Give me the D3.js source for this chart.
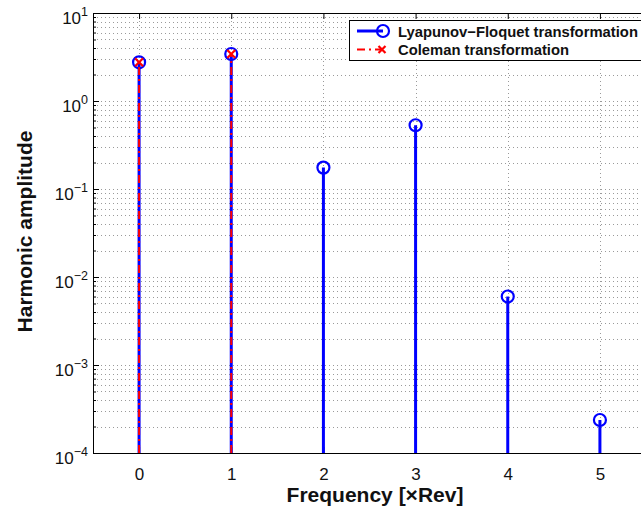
<!DOCTYPE html>
<html><head><meta charset="utf-8">
<script src="https://cdn.jsdelivr.net/npm/d3@7"></script>
<style>body{margin:0;background:#fff}svg{display:block}</style>
</head><body>
<script>
const frequencies = [0, 1, 2, 3, 4, 5];
const lfAmplitude = [2.75, 3.42, 0.175, 0.53, 0.006, 0.000237];
const colemanFreq = [0, 1];
const colemanAmplitude = [2.75, 3.42];
const xTicks = [0, 1, 2, 3, 4, 5];
const yDecades = [-4, -3, -2, -1, 0, 1];
const seriesNames = ["Lyapunov\u2212Floquet transformation", "Coleman transformation"];

const W = 641, H = 507;
const L = 93, R = 646, T = 13, B = 453;
const svg = d3.select("body").append("svg").attr("width", W).attr("height", H);
const x = d3.scaleLinear().domain([-0.5, 5.5]).range([L, R]);
const y = d3.scaleLog().domain([1e-4, 10]).range([B, T]);
const font = "Liberation Sans, Arial, Helvetica, sans-serif";

svg.append("defs").append("clipPath").attr("id", "clip")
  .append("rect").attr("x", L).attr("y", T).attr("width", R - L).attr("height", B - T);

const grid = svg.append("g");
const yGridVals = [];
for (let e = -4; e < 1; e++) for (let m = 1; m < 10; m++) yGridVals.push(m * Math.pow(10, e));
yGridVals.push(10);
grid.selectAll("line.hg").data(yGridVals).enter().append("line")
  .attr("x1", L).attr("x2", R).attr("y1", d => Math.round(y(d)) + 0.5).attr("y2", d => Math.round(y(d)) + 0.5)
  .attr("stroke", "#9a9a9a").attr("stroke-width", 1).attr("stroke-dasharray", "1,3");
grid.selectAll("line.vg").data(xTicks).enter().append("line")
  .attr("y1", T).attr("y2", B).attr("x1", d => Math.round(x(d)) + 0.5).attr("x2", d => Math.round(x(d)) + 0.5)
  .attr("stroke", "#9a9a9a").attr("stroke-width", 1).attr("stroke-dasharray", "1,3");

const xAxis = d3.axisBottom(x).tickValues(xTicks).tickSize(-6).tickPadding(0).tickFormat(d3.format("d"));
const gx = svg.append("g").attr("transform", `translate(0,${B})`).call(xAxis);
gx.select(".domain").remove();
gx.selectAll("text").attr("font-family", font).attr("font-size", 17).attr("fill", "#111")
  .attr("dy", null).attr("y", 27);
const xTop = d3.axisTop(x).tickValues(xTicks).tickSize(-6).tickFormat("");
const gxt = svg.append("g").attr("transform", `translate(0,${T})`).call(xTop);
gxt.select(".domain").remove();

const yMinor = d3.axisLeft(y).tickValues(yGridVals).tickSize(-3).tickFormat("");
const gym = svg.append("g").attr("transform", `translate(${L},0)`).call(yMinor);
gym.select(".domain").remove();
const yMajor = d3.axisLeft(y).tickValues(yDecades.map(e => Math.pow(10, e))).tickSize(-6).tickFormat("");
const gy = svg.append("g").attr("transform", `translate(${L},0)`).call(yMajor);
gy.select(".domain").remove();
svg.selectAll(".tick line").attr("stroke", "#000");

const yl = svg.append("g");
yDecades.forEach(e => {
  const t = yl.append("text").attr("x", 88).attr("y", y(Math.pow(10, e)) + 10.5)
    .attr("text-anchor", "end").attr("font-family", font).attr("font-size", 17).attr("fill", "#111");
  t.append("tspan").text("10");
  t.append("tspan").attr("dy", -8).attr("font-size", 12.5).text(e < 0 ? "\u2212" + Math.abs(e) : String(e));
});

svg.append("rect").attr("x", L + 0.5).attr("y", T + 0.5).attr("width", R - L).attr("height", B - T)
  .attr("fill", "none").attr("stroke", "#000").attr("stroke-width", 1);

const plot = svg.append("g").attr("clip-path", "url(#clip)");
plot.selectAll("line.lf").data(frequencies).enter().append("line")
  .attr("x1", d => x(d)).attr("x2", d => x(d)).attr("y1", B).attr("y2", (d, i) => y(lfAmplitude[i]))
  .attr("stroke", "#0000ff").attr("stroke-width", 3);
plot.selectAll("circle.lf").data(frequencies).enter().append("circle")
  .attr("cx", d => x(d)).attr("cy", (d, i) => y(lfAmplitude[i])).attr("r", 6)
  .attr("fill", "none").attr("stroke", "#0000ff").attr("stroke-width", 2.2);
plot.selectAll("line.co").data(colemanFreq).enter().append("line")
  .attr("x1", d => x(d)).attr("x2", d => x(d)).attr("y1", B).attr("y2", (d, i) => y(colemanAmplitude[i]))
  .attr("stroke", "#ff0000").attr("stroke-width", 2).attr("stroke-dasharray", "8,4,2,4");
const cross = (g, cx, cy, s) => {
  g.append("path").attr("d", `M${cx - s},${cy - s}L${cx + s},${cy + s}M${cx - s},${cy + s}L${cx + s},${cy - s}`)
    .attr("stroke", "#ff0000").attr("stroke-width", 2.2).attr("fill", "none");
};
colemanFreq.forEach((d, i) => cross(plot, x(d), y(colemanAmplitude[i]), 4));

const lg = svg.append("g");
lg.append("rect").attr("x", 349.5).attr("y", 20.5).attr("width", 320).attr("height", 40)
  .attr("fill", "#fff").attr("stroke", "#000").attr("stroke-width", 1);
lg.append("line").attr("x1", 357).attr("x2", 383).attr("y1", 31).attr("y2", 31).attr("stroke", "#0000ff").attr("stroke-width", 3);
lg.append("circle").attr("cx", 383).attr("cy", 31).attr("r", 6).attr("fill", "none").attr("stroke", "#0000ff").attr("stroke-width", 2.2);
lg.append("line").attr("x1", 357).attr("x2", 383).attr("y1", 49.5).attr("y2", 49.5).attr("stroke", "#ff0000").attr("stroke-width", 2).attr("stroke-dasharray", "8,4,2,4");
cross(lg, 382, 49.5, 3.5);
lg.append("text").attr("x", 398).attr("y", 36.5).attr("font-family", font).attr("font-weight", "bold").attr("font-size", 14.8).attr("fill", "#111").text(seriesNames[0]);
lg.append("text").attr("x", 398).attr("y", 54.5).attr("font-family", font).attr("font-weight", "bold").attr("font-size", 14.8).attr("fill", "#111").text(seriesNames[1]);

svg.append("text").attr("x", 375).attr("y", 502).attr("text-anchor", "middle")
  .attr("font-family", font).attr("font-weight", "bold").attr("font-size", 21).attr("fill", "#111").text("Frequency [\u00d7Rev]");
svg.append("text").attr("transform", `translate(32,${231.5}) rotate(-90)`).attr("text-anchor", "middle")
  .attr("font-family", font).attr("font-weight", "bold").attr("font-size", 21).attr("fill", "#111").text("Harmonic amplitude");
</script>
</body></html>
